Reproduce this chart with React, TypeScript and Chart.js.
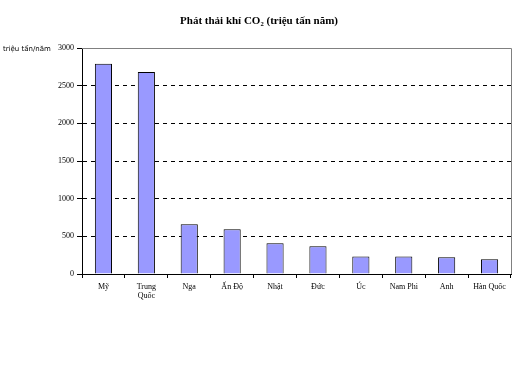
import React, { useEffect, useRef } from "react";
import { Chart, registerables } from "chart.js";

Chart.register(...registerables);

const categories: (string | string[])[] = [
  "Mỹ",
  ["Trung", "Quốc"],
  "Nga",
  "Ấn Độ",
  "Nhật",
  "Đức",
  "Úc",
  "Nam Phi",
  "Anh",
  "Hàn Quốc",
];
const emissions = [2790, 2680, 660, 594, 408, 370, 232, 232, 222, 195];
const titleText = "Phát thải khí CO₂ (triệu tấn năm)";
const yAxisLabel = "triệu tấn/năm";
const yMin = 0;
const yMax = 3000;
const yStep = 500;

const decor = {
  id: "decor",
  beforeDatasetsDraw(chart: any) {
    const { ctx, chartArea } = chart;
    ctx.save();
    ctx.strokeStyle = "#808080";
    ctx.lineWidth = 1;
    ctx.beginPath();
    ctx.moveTo(chartArea.left, chartArea.top + 0.5);
    ctx.lineTo(chartArea.right + 0.5, chartArea.top + 0.5);
    ctx.lineTo(chartArea.right + 0.5, chartArea.bottom);
    ctx.stroke();
    ctx.restore();
  },
  afterDraw(chart: any) {
    const { ctx } = chart;
    ctx.save();
    ctx.fillStyle = "#000";
    ctx.textAlign = "center";
    ctx.textBaseline = "middle";
    ctx.font = "bold 11px 'Liberation Serif', serif";
    ctx.fillText(titleText, 259, 21);
    ctx.textAlign = "left";
    ctx.font = "7px 'DejaVu Sans', sans-serif";
    ctx.fillText(yAxisLabel, 3, 49);
    ctx.restore();
  },
};

export default function App() {
  const ref = useRef<HTMLCanvasElement>(null);
  useEffect(() => {
    if (!ref.current) return;
    const chart = new Chart(ref.current, {
      type: "bar",
      data: {
        labels: categories as any,
        datasets: [
          {
            data: emissions,
            backgroundColor: "#9999FF",
            borderColor: "#000000",
            borderWidth: 1,
            categoryPercentage: 1,
            barPercentage: 0.4,
          },
        ],
      },
      options: {
        responsive: false,
        animation: false,
        layout: { padding: { left: 0, top: 48, right: 10, bottom: 0 } },
        plugins: {
          legend: { display: false },
          title: { display: false },
          tooltip: { enabled: false },
        },
        scales: {
          x: {
            offset: true,
            grid: {
              offset: true,
              drawOnChartArea: false,
              drawTicks: true,
              tickLength: 4,
              tickColor: "#000",
            },
            border: { display: true, color: "#000", width: 1 },
            ticks: {
              color: "#000",
              font: { family: "'Liberation Serif', serif", size: 8, lineHeight: 1.1 },
              padding: 5,
              maxRotation: 0,
              autoSkip: false,
            },
            afterFit: (s: any) => {
              s.height = 110;
            },
          },
          y: {
            min: yMin,
            max: yMax,
            ticks: {
              stepSize: yStep,
              color: "#000",
              font: { family: "'Liberation Serif', serif", size: 8 },
              padding: 3,
              callback: (v: any) => String(v),
            },
            grid: {
              color: (c: any) =>
                c.tick && (c.tick.value === yMin || c.tick.value === yMax) ? "rgba(0,0,0,0)" : "#000",
              tickColor: "#000",
              tickLength: 5,
              lineWidth: 1,
            },
            border: { display: true, color: "#000", width: 1, dash: [4, 4] },
            afterFit: (s: any) => {
              s.width = 82;
            },
          },
        },
      },
      plugins: [decor],
    });
    return () => chart.destroy();
  }, []);
  return (
    <div style={{ position: "absolute", left: 0, top: 0, width: 521, height: 384, background: "#fff" }}>
      <canvas ref={ref} width={521} height={384} />
    </div>
  );
}
